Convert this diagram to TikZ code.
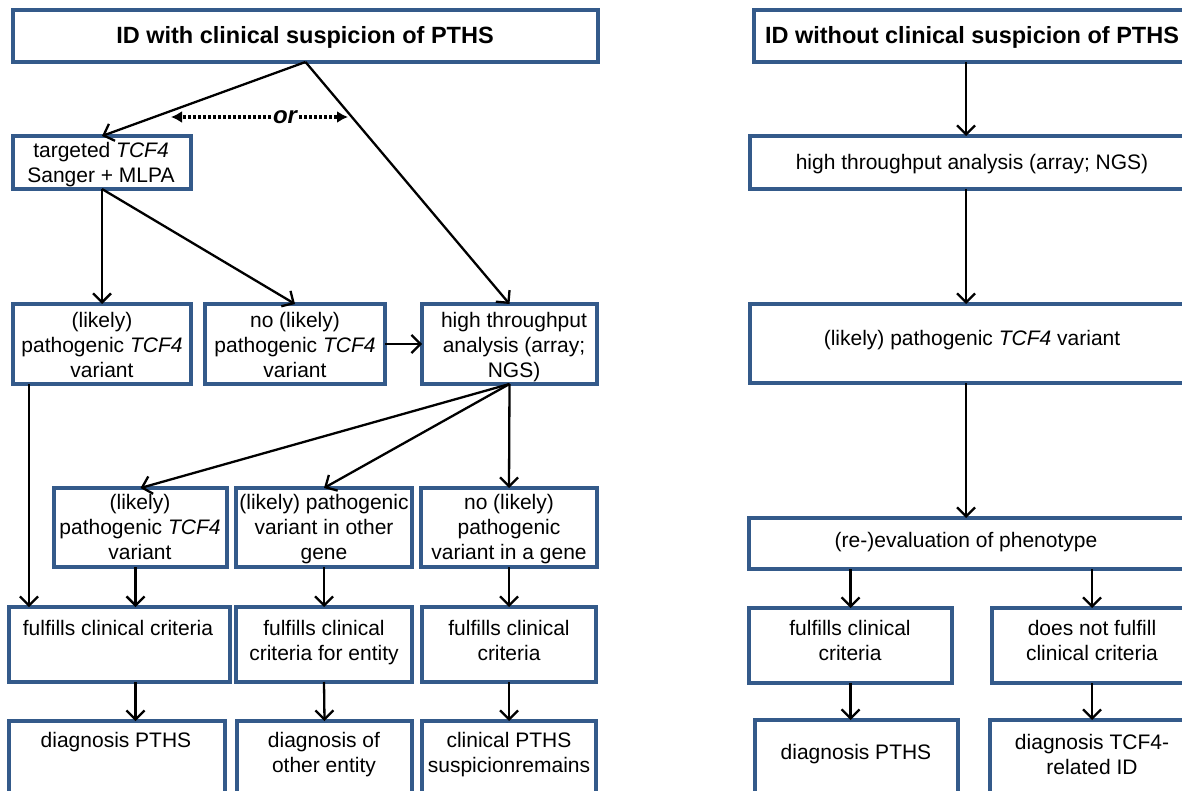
\documentclass[tikz,border=0pt]{standalone}
\usepackage{fontspec}
\setmainfont{Liberation Sans}
\usetikzlibrary{arrows.meta,fit}
\definecolor{boxc}{RGB}{52,90,138}
\begin{document}
\begin{tikzpicture}[x=1pt,y=-1pt,
 box/.style={draw=boxc,line width=3.4pt,inner sep=0pt,outer sep=0pt,fill=white},
 txt/.style={font=\fontsize{21}{25}\selectfont,align=center,inner sep=0pt,anchor=north,yshift=-2pt},
 ttl/.style={font=\fontsize{23.5}{27}\selectfont\bfseries,inner sep=0pt,anchor=center,yshift=-1pt},
 arr/.style={line width=2.3pt,-{Straight Barb[length=9pt,width=18pt]}},
 dotarr/.style={line width=3.4pt,dash pattern=on 3pt off 2pt,-{Latex[length=11pt,width=12pt]}}]
\useasboundingbox (0,0) rectangle (1182,791);
\clip (0,0) rectangle (1182,791);
% left boxes
\node[box,fit={(13,10) (598,62)}] (top) {};
\node[box,fit={(13,136) (191,189)}] (tgt) {};
\node[box,fit={(13,304) (191,384)}] (a) {};
\node[box,fit={(205,304) (385,384)}] (b) {};
\node[box,fit={(422,304) (597,384)}] (c) {};
\node[box,fit={(54,488) (227,567)}] (d) {};
\node[box,fit={(236,488) (412,567)}] (e) {};
\node[box,fit={(421,488) (597,567)}] (f) {};
\node[box,fit={(9,607) (230,682)}] (g) {};
\node[box,fit={(236,607) (412,682)}] (h) {};
\node[box,fit={(422,607) (596,682)}] (i) {};
\node[box,fit={(9,721) (225,805)}] (j) {};
\node[box,fit={(237,721) (412,805)}] (k) {};
\node[box,fit={(422,721) (596,805)}] (l) {};
% right boxes
\node[box,fit={(754,10) (1190,62)}] (rtop) {};
\node[box,fit={(750,136) (1190,189)}] (rht) {};
\node[box,fit={(750,304) (1190,383)}] (rpat) {};
\node[box,fit={(749,518) (1190,569)}] (reev) {};
\node[box,fit={(749,608) (952,683)}] (ful) {};
\node[box,fit={(992,608) (1192,683)}] (dnf) {};
\node[box,fit={(755,720) (958,805)}] (dp) {};
\node[box,fit={(990,720) (1194,805)}] (dt) {};
% texts
\node[ttl] (top-t) at (305,36) {ID with clinical suspicion of PTHS};
\node[txt] (tgt-t) at (101,140) {targeted \textit{TCF4}\\Sanger + MLPA};
\node[txt] (a-t) at (102,310) {(likely)\\pathogenic \textit{TCF4}\\variant};
\node[txt] (b-t) at (295,310) {no (likely)\\pathogenic \textit{TCF4}\\variant};
\node[txt] (c-t) at (514,310) {high throughput\\analysis (array;\\NGS)};
\node[txt] (d-t) at (140,492) {(likely)\\pathogenic \textit{TCF4}\\variant};
\node[txt] (e-t) at (324,492) {(likely) pathogenic\\variant in other\\gene};
\node[txt] (f-t) at (509,492) {no (likely)\\pathogenic\\variant in a gene};
\node[txt] (g-t) at (118,618) {fulfills clinical criteria};
\node[txt] (h-t) at (324,618) {fulfills clinical\\criteria for entity};
\node[txt] (i-t) at (509,618) {fulfills clinical\\criteria};
\node[txt] (j-t) at (116,730) {diagnosis PTHS};
\node[txt] (k-t) at (324,730) {diagnosis of\\other entity};
\node[txt] (l-t) at (509,730) {clinical PTHS\\suspicionremains};
\node[ttl] (rtop-t) at (972,36) {ID without clinical suspicion of PTHS};
\node[txt] (rht-t) at (972,152) {high throughput analysis (array; NGS)};
\node[txt] (rpat-t) at (972,328) {(likely) pathogenic \textit{TCF4} variant};
\node[txt] (reev-t) at (966,530) {(re-)evaluation of phenotype};
\node[txt] (ful-t) at (850,618) {fulfills clinical\\criteria};
\node[txt] (dnf-t) at (1092,618) {does not fulfill\\clinical criteria};
\node[txt] (dp-t) at (856,742) {diagnosis PTHS};
\node[txt] (dt-t) at (1092,732) {diagnosis TCF4-\\related ID};
% or
\node[font=\fontsize{24}{28}\selectfont\bfseries\itshape,inner sep=2pt] (or) at (285,117) {or};
\coordinate (orL) at (171,117);
\coordinate (orR) at (348,117);
\draw[dotarr] (or.west) -- (orL);
\draw[dotarr] (or.east) -- (orR);
% left arrows
\draw[arr] (top.south) -- (tgt.north);
\draw[arr] (top.south) -- (c.north);
\draw[arr] (tgt.south) -- (a.north);
\draw[arr] (tgt.south) -- (b.north);
\draw[arr] (b.east) -- (c.west);
\coordinate (acol) at ([xshift=16pt]a.south west);
\draw[arr] (acol) -- (acol |- g.north);
\draw[arr] (c.south) -- (d.north);
\draw[arr] (c.south) -- (e.north);
\draw[arr] (c.south) -- (f.north);
\coordinate (dcol) at ([xshift=-5pt]d.south);
\draw[arr] (dcol) -- (dcol |- g.north);
\draw[arr] (e.south) -- (h.north);
\draw[arr] (f.south) -- (i.north);
\draw[arr] (dcol |- g.south) -- (dcol |- j.north);
\draw[arr] (h.south) -- (k.north);
\draw[arr] (i.south) -- (l.north);
% right arrows
\coordinate (rcol) at (966,0);
\draw[arr] (rcol |- rtop.south) -- (rcol |- rht.north);
\draw[arr] (rcol |- rht.south) -- (rcol |- rpat.north);
\draw[arr] (rcol |- rpat.south) -- (rcol |- reev.north);
\draw[arr] (ful.north |- reev.south) -- (ful.north);
\draw[arr] (dnf.north |- reev.south) -- (dnf.north);
\draw[arr] (ful.south) -- (ful.south |- dp.north);
\draw[arr] (dnf.south) -- (dnf.south |- dt.north);
\end{tikzpicture}
\end{document}
